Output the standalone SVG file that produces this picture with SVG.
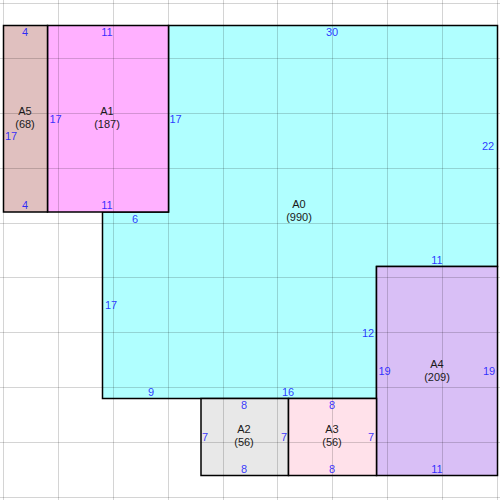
<svg xmlns="http://www.w3.org/2000/svg" width="500" height="500" viewBox="0 0 500 500">
<style>
.room{stroke:#000;stroke-width:1.5;stroke-linejoin:miter}
.grid line{stroke:#000;stroke-opacity:0.17;stroke-width:1}
text{font-family:"Liberation Sans",Arial,sans-serif;font-size:11px;text-anchor:middle}
.nm{fill:#1a1a1a}
.dim{fill:#1010ff;fill-opacity:0.85}
</style>
<rect width="500" height="500" fill="#fff"/>
<g id="A0">
<polygon class="room" fill="#b0ffff" points="168.5,25.5 497.5,25.5 497.5,266.5 376.5,266.5 376.5,398.5 102.5,398.5 102.5,212 168.5,212"/>
</g>
<g id="A1">
<rect class="room" fill="#ffb0ff" x="47.5" y="25.5" width="121" height="186.5"/>
</g>
<g id="A5">
<rect class="room" fill="#e0c0bf" x="3.5" y="25.5" width="44" height="186.5"/>
</g>
<g id="A4">
<rect class="room" fill="#d9bff6" x="376.5" y="266.5" width="121" height="209"/>
</g>
<g id="A2">
<rect class="room" fill="#e8e8e8" x="201" y="398.5" width="87.5" height="77"/>
</g>
<g id="A3">
<rect class="room" fill="#ffe1ea" x="288.5" y="398.5" width="88" height="77"/>
</g>
<g class="grid">
<line x1="3.5" y1="0" x2="3.5" y2="500"/>
<line x1="58.5" y1="0" x2="58.5" y2="500"/>
<line x1="113.5" y1="0" x2="113.5" y2="500"/>
<line x1="168.5" y1="0" x2="168.5" y2="500"/>
<line x1="223.5" y1="0" x2="223.5" y2="500"/>
<line x1="277.5" y1="0" x2="277.5" y2="500"/>
<line x1="332.5" y1="0" x2="332.5" y2="500"/>
<line x1="387.5" y1="0" x2="387.5" y2="500"/>
<line x1="442.5" y1="0" x2="442.5" y2="500"/>
<line x1="497.5" y1="0" x2="497.5" y2="500"/>
<line x1="0" y1="3.5" x2="500" y2="3.5"/>
<line x1="0" y1="58.5" x2="500" y2="58.5"/>
<line x1="0" y1="113.5" x2="500" y2="113.5"/>
<line x1="0" y1="168.5" x2="500" y2="168.5"/>
<line x1="0" y1="223.5" x2="500" y2="223.5"/>
<line x1="0" y1="277.5" x2="500" y2="277.5"/>
<line x1="0" y1="332.5" x2="500" y2="332.5"/>
<line x1="0" y1="387.5" x2="500" y2="387.5"/>
<line x1="0" y1="442.5" x2="500" y2="442.5"/>
<line x1="0" y1="497.5" x2="500" y2="497.5"/>
</g>
<g id="connectors"/>
<g id="A0-labels">
<text class="nm" x="299" y="208">A0</text>
<text class="nm" x="299" y="221">(990)</text>
<text class="dim" x="332" y="36">30</text>
<text class="dim" x="488" y="150">22</text>
<text class="dim" x="437" y="264">11</text>
<text class="dim" x="368" y="337">12</text>
<text class="dim" x="288" y="396">16</text>
<text class="dim" x="151" y="396">9</text>
<text class="dim" x="111" y="309">17</text>
<text class="dim" x="135" y="223">6</text>
<text class="dim" x="175.5" y="123">17</text>
</g>
<g id="A1-labels">
<text class="nm" x="107" y="115">A1</text>
<text class="nm" x="107" y="128">(187)</text>
<text class="dim" x="107" y="36">11</text>
<text class="dim" x="107" y="209">11</text>
<text class="dim" x="55.5" y="123">17</text>
</g>
<g id="A5-labels">
<text class="nm" x="25" y="115">A5</text>
<text class="nm" x="25" y="128">(68)</text>
<text class="dim" x="25" y="36">4</text>
<text class="dim" x="25" y="209">4</text>
<text class="dim" x="11" y="140">17</text>
</g>
<g id="A4-labels">
<text class="nm" x="437" y="368">A4</text>
<text class="nm" x="437" y="381">(209)</text>
<text class="dim" x="437" y="473">11</text>
<text class="dim" x="384.5" y="375">19</text>
<text class="dim" x="489" y="375">19</text>
</g>
<g id="A2-labels">
<text class="nm" x="244" y="433">A2</text>
<text class="nm" x="244" y="446">(56)</text>
<text class="dim" x="244" y="409">8</text>
<text class="dim" x="244" y="473">8</text>
<text class="dim" x="205" y="441">7</text>
<text class="dim" x="284" y="441">7</text>
</g>
<g id="A3-labels">
<text class="nm" x="332" y="433">A3</text>
<text class="nm" x="332" y="446">(56)</text>
<text class="dim" x="332" y="409">8</text>
<text class="dim" x="332" y="473">8</text>
<text class="dim" x="371" y="441">7</text>
</g>
</svg>
